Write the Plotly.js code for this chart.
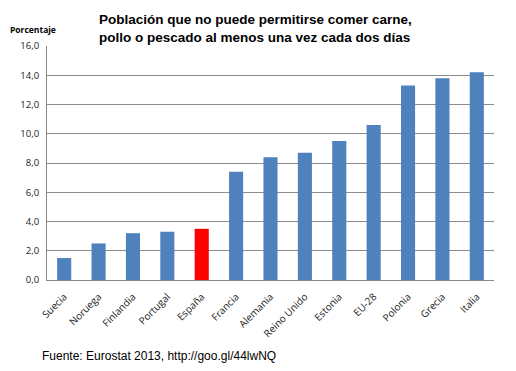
<!DOCTYPE html>
<html><head><meta charset="utf-8">
<script src="https://cdn.plot.ly/plotly-3.0.1.min.js"></script>
<style>html,body{margin:0;padding:0;background:#fff}#c{width:516px;height:371px}</style>
</head><body><div id="c"></div>
<script>
const categories = ["Suecia","Noruega","Finlandia","Portugal","España","Francia","Alemania","Reino Unido","Estonia","EU-28","Polonia","Grecia","Italia"];
const values = [1.5,2.5,3.2,3.3,3.5,7.4,8.4,8.7,9.5,10.6,13.3,13.8,14.2];
const highlight = "España";
const yTicks = [0,2,4,6,8,10,12,14,16];
const colors = categories.map(c => c === highlight ? "#FF0000" : "#4F81BD");

Plotly.newPlot("c", [{
  type: "bar", x: categories, y: values,
  marker: {color: colors, line: {width: 0}},
  hoverinfo: "x+y"
}], {
  width: 516, height: 371,
  margin: {l: 47, r: 22, t: 46, b: 91},
  paper_bgcolor: "#fff", plot_bgcolor: "#fff",
  separators: ",.",
  bargap: 0.59,
  showlegend: false,
  font: {family: "Liberation Sans, Arial, sans-serif", color: "#000"},
  xaxis: {
    tickangle: -45, tickfont: {family: "Open Sans, sans-serif", size: 10, color: "#222"},
    showline: true, linecolor: "#888", linewidth: 1, ticks: "", showgrid: false,
    ticklabelstandoff: 6, automargin: false
  },
  yaxis: {
    range: [0, 16], tickvals: yTicks, tickformat: ".1f",
    tickfont: {family: "Open Sans, sans-serif", size: 9.5, color: "#222"},
    showgrid: true, gridcolor: "#8c8c8c", gridwidth: 1,
    showline: true, linecolor: "#888", linewidth: 1, zeroline: false,
    ticks: "", ticklen: 0, ticklabelstandoff: 5, automargin: false
  },
  annotations: [
    {xref: "paper", yref: "paper", x: (97-47)/447, y: 1 + (46-28)/234, xanchor: "left", yanchor: "middle",
     align: "left", showarrow: false,
     text: "<b>Población que no puede permitirse comer carne,<br>pollo o pescado al menos una vez cada dos días</b>",
     font: {family: "Liberation Sans, Arial, sans-serif", size: 13.5, color: "#000"}},
    {xref: "paper", yref: "paper", x: -(47-8)/447, y: 1 + (46-29)/234, xanchor: "left", yanchor: "middle",
     showarrow: false, text: "<b>Porcentaje</b>",
     font: {family: "Open Sans, sans-serif", size: 8.5, color: "#000"}},
    {xref: "paper", yref: "paper", x: -(47-40)/447, y: -(356-280)/234, xanchor: "left", yanchor: "middle",
     showarrow: false, text: "Fuente: Eurostat 2013, http://goo.gl/44lwNQ",
     font: {family: "Liberation Sans, Arial, sans-serif", size: 12, color: "#000"}}
  ]
}, {displayModeBar: false, staticPlot: true});
</script></body></html>
